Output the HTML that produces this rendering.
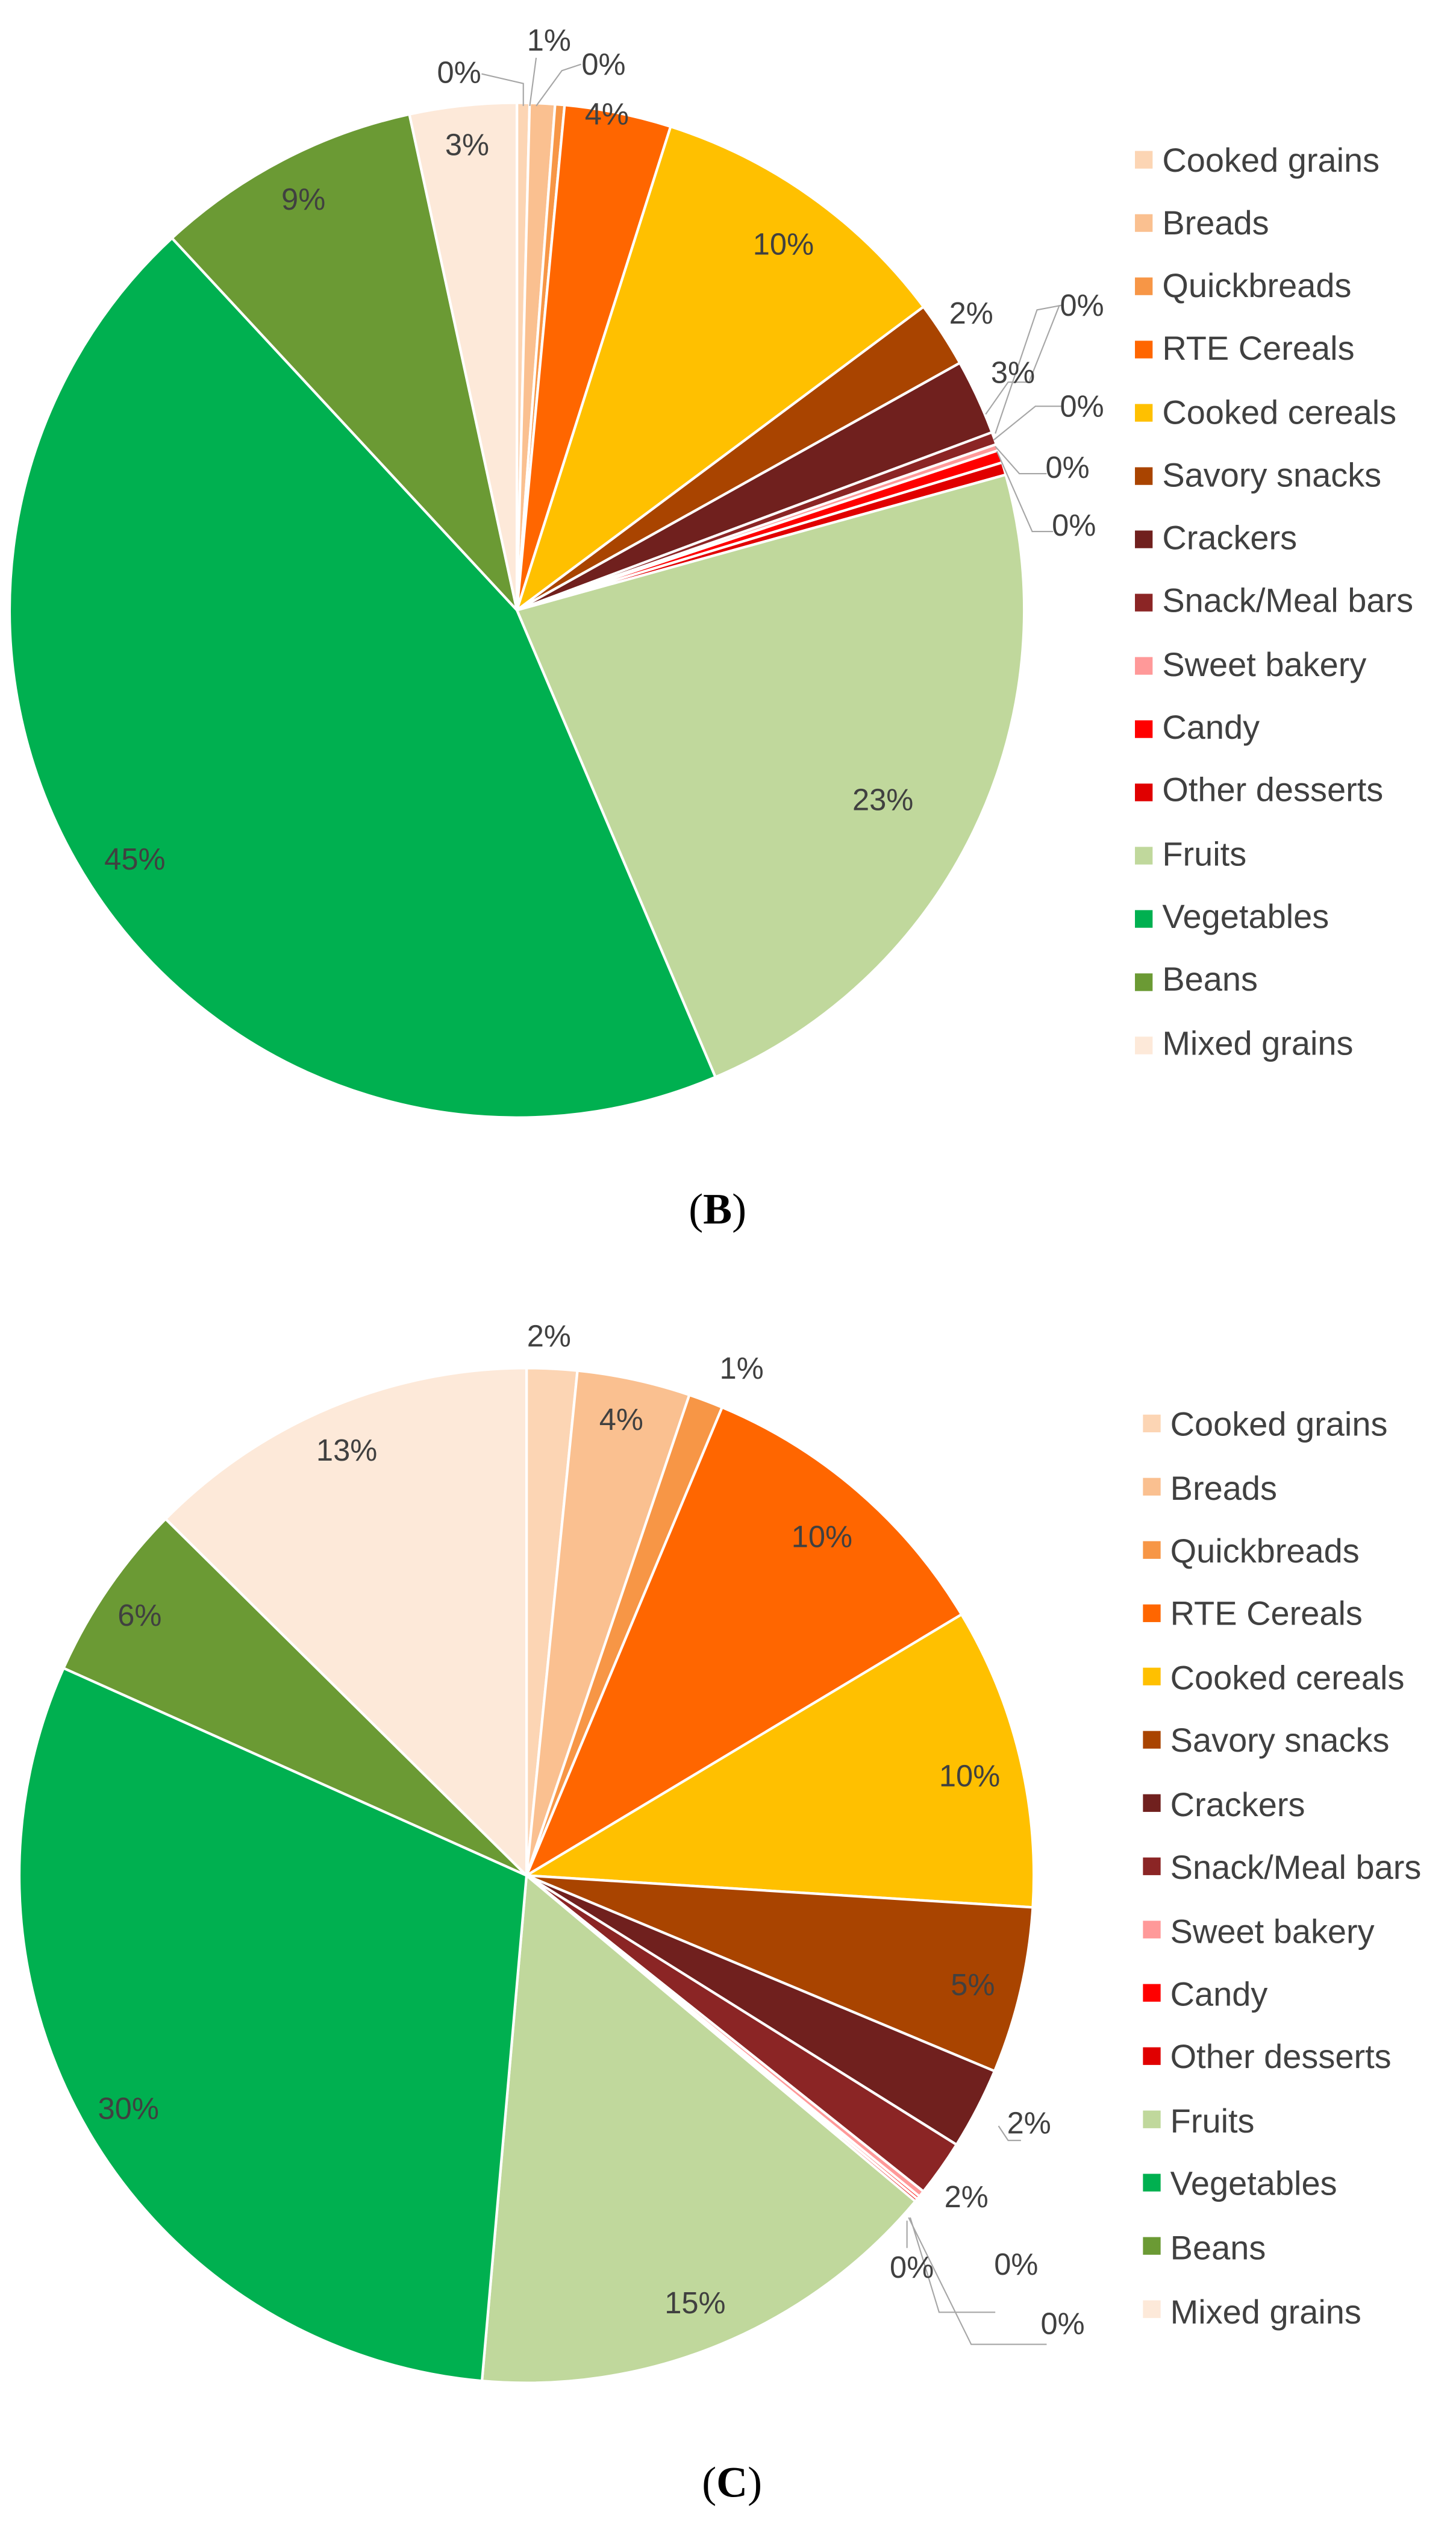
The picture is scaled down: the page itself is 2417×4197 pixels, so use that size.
<!DOCTYPE html>
<html><head><meta charset="utf-8"><style>
html,body{margin:0;padding:0;background:#fff;}
svg{display:block;}
text{font-family:"Liberation Sans",sans-serif;fill:#404040;}
.lg{font-size:21px;}
.lb{font-size:19px;text-anchor:middle;dominant-baseline:central;}
.cap{font-family:"Liberation Serif",serif;font-size:27px;fill:#000;text-anchor:middle;}
</style></head><body>
<svg id="s" width="2417" height="4197" viewBox="0 0 907 1575" preserveAspectRatio="none" xmlns="http://www.w3.org/2000/svg">
<g id="pieB"></g>
<g id="pieC"></g>
<g stroke="#a6a6a6" stroke-width="0.8" fill="none">
<polyline points="326,66 326,52 300,46"/>
<polyline points="330,66 334,36"/>
<polyline points="334,66 350,44 362,40"/>
<polyline points="614,258 628,238 641,238 660,190"/>
<polyline points="620,270 646,193 662,190"/>
<polyline points="619,274 645,253 662,253"/>
<polyline points="620,278 635,295 652,295"/>
<polyline points="621,281 643,331 656,331"/>
<polyline points="622,1324 628,1333 636,1333"/>
<polyline points="565,1383 565,1400"/>
<polyline points="567,1381 585,1440 620,1440"/>
<polyline points="566,1381 605,1460 652,1460"/>
</g>
<g>
<text class="lb" x="286" y="45">0%</text><text class="lb" x="342" y="25">1%</text><text class="lb" x="376" y="40">0%</text>
<text class="lb" x="378" y="71">4%</text><text class="lb" x="488" y="152">10%</text><text class="lb" x="605" y="195">2%</text>
<text class="lb" x="674" y="190">0%</text><text class="lb" x="631" y="232">3%</text><text class="lb" x="674" y="253">0%</text>
<text class="lb" x="665" y="291">0%</text><text class="lb" x="669" y="327">0%</text><text class="lb" x="550" y="498">23%</text>
<text class="lb" x="84" y="535">45%</text><text class="lb" x="189" y="124">9%</text><text class="lb" x="291" y="90">3%</text>

<text class="lb" x="342" y="832">2%</text><text class="lb" x="387" y="884">4%</text><text class="lb" x="462" y="852">1%</text>
<text class="lb" x="512" y="957">10%</text><text class="lb" x="604" y="1106">10%</text><text class="lb" x="606" y="1236">5%</text>
<text class="lb" x="641" y="1322">2%</text><text class="lb" x="602" y="1368">2%</text><text class="lb" x="568" y="1412">0%</text>
<text class="lb" x="633" y="1410">0%</text><text class="lb" x="662" y="1447">0%</text><text class="lb" x="433" y="1434">15%</text>
<text class="lb" x="80" y="1313">30%</text><text class="lb" x="87" y="1006">6%</text><text class="lb" x="216" y="903">13%</text>
</g>
<g id="legB"></g><g id="legC"></g>
<text class="cap" x="447" y="762">(<tspan font-weight="bold" style="fill:#000">B</tspan>)</text>
<text class="cap" x="456" y="1555">(<tspan font-weight="bold" style="fill:#000">C</tspan>)</text>
<g id="legtext">
<text class="lg" x="724" y="107">Cooked grains</text><text class="lg" x="724" y="146">Breads</text><text class="lg" x="724" y="185">Quickbreads</text>
<text class="lg" x="724" y="224">RTE Cereals</text><text class="lg" x="724" y="264">Cooked cereals</text><text class="lg" x="724" y="303">Savory snacks</text>
<text class="lg" x="724" y="342">Crackers</text><text class="lg" x="724" y="381">Snack/Meal bars</text><text class="lg" x="724" y="421">Sweet bakery</text>
<text class="lg" x="724" y="460">Candy</text><text class="lg" x="724" y="499">Other desserts</text><text class="lg" x="724" y="539">Fruits</text>
<text class="lg" x="724" y="578">Vegetables</text><text class="lg" x="724" y="617">Beans</text><text class="lg" x="724" y="657">Mixed grains</text>

<text class="lg" x="729" y="894">Cooked grains</text><text class="lg" x="729" y="934">Breads</text><text class="lg" x="729" y="973">Quickbreads</text>
<text class="lg" x="729" y="1012">RTE Cereals</text><text class="lg" x="729" y="1052">Cooked cereals</text><text class="lg" x="729" y="1091">Savory snacks</text>
<text class="lg" x="729" y="1131">Crackers</text><text class="lg" x="729" y="1170">Snack/Meal bars</text><text class="lg" x="729" y="1210">Sweet bakery</text>
<text class="lg" x="729" y="1249">Candy</text><text class="lg" x="729" y="1288">Other desserts</text><text class="lg" x="729" y="1328">Fruits</text>
<text class="lg" x="729" y="1367">Vegetables</text><text class="lg" x="729" y="1407">Beans</text><text class="lg" x="729" y="1447">Mixed grains</text>
</g>
</svg>
<script>
var cols=["#FCD5B4","#FAC090","#F79646","#FF6600","#FFC000","#A94400","#70201E","#8B2525","#FF9999","#FF0000","#E00000","#C0D89C","#00B050","#6B9A34","#FDE9D9"];
var B=[0.004,0.012,0.015,0.049,0.148,0.169,0.193,0.197,0.199,0.203,0.207,0.436,0.881,0.966,1.0];
var C=[0.016,0.052,0.063,0.164,0.260,0.313,0.339,0.357,0.359,0.360,0.361,0.514,0.817,0.874,1.0];
var NS="http://www.w3.org/2000/svg";
function pie(id,cx,cy,r,ends){
 var g=document.getElementById(id),s=0;
 for(var i=0;i<ends.length;i++){
  var e=ends[i];
  var a0=s*2*Math.PI,a1=e*2*Math.PI;
  var x0=cx+r*Math.sin(a0),y0=cy-r*Math.cos(a0),x1=cx+r*Math.sin(a1),y1=cy-r*Math.cos(a1);
  var p=document.createElementNS(NS,"path");
  p.setAttribute("d","M"+cx+","+cy+"L"+x0+","+y0+"A"+r+","+r+" 0 "+((e-s)>0.5?1:0)+" 1 "+x1+","+y1+"Z");
  p.setAttribute("fill",cols[i]);p.setAttribute("stroke","#fff");p.setAttribute("stroke-width","1.6");
  g.appendChild(p);s=e;
 }
}
pie("pieB",322,380,316,B);
pie("pieC",328,1168,316,C);
function leg(id,x,y0){
 var g=document.getElementById(id);
 for(var i=0;i<15;i++){
  var r=document.createElementNS(NS,"rect");
  r.setAttribute("x",x);r.setAttribute("y",y0+i*39.4-6);r.setAttribute("width",11);r.setAttribute("height",11);
  r.setAttribute("fill",cols[i]);g.appendChild(r);
 }
}
leg("legB",707,100);
leg("legC",712,887);
</script>
</body></html>
